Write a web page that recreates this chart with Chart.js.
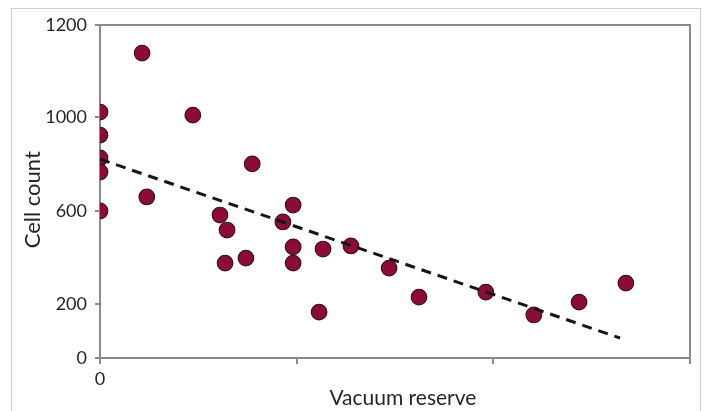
<!DOCTYPE html>
<html>
<head>
<meta charset="utf-8">
<script src="https://cdn.jsdelivr.net/npm/chart.js@4.4.1/dist/chart.umd.min.js"></script>
<style>
  html, body { margin: 0; padding: 0; background: #fff; }
  #wrap { position: relative; width: 705px; height: 411px; }
  #frame { position: absolute; left: 11px; top: 8px; width: 688px; height: 410px; border: 1px solid #cfcfcf; pointer-events: none; }
  canvas { position: absolute; left: 0; top: 0; }
</style>
</head>
<body>
<div id="wrap">
  <canvas id="c" width="705" height="411"></canvas>
  <div id="frame"></div>
</div>
<script>
// Data
const vacuumReserve = [0, 0, 0, 0, 0, 1.07, 2.36, 1.19, 3.05, 3.23, 3.18, 3.71, 3.87, 4.65, 4.91, 4.91, 4.91, 5.67, 6.38, 5.57, 7.35, 8.11, 9.81, 11.03, 12.18, 13.37];
const cellCount     = [1034, 937, 841, 782, 618, 1282, 1021, 677, 601, 538, 399, 420, 816, 572, 643, 467, 399, 458, 471, 193, 378, 256, 277, 181, 235, 315];
const trendX = [0, 13.22];
const trendY = [836, 84];
const yTickValues = [0, 227, 618, 1013, 1400];
const yTickLabels = ['0', '200', '600', '1000', '1200'];
const xTickValues = [0, 5, 10, 15];
const xTickLabels = ['0', '', '', ''];

const points = vacuumReserve.map((x, i) => ({ x: x, y: cellCount[i] }));
const trend = trendX.map((x, i) => ({ x: x, y: trendY[i] }));

const axisGray = '#8a8a8a';
const textCol = '#262626';
const fontFam = 'Lato, "Open Sans", sans-serif';

const boxPlugin = {
  id: 'box',
  beforeDatasetsDraw(chart) {
    const a = chart.chartArea, ctx = chart.ctx;
    ctx.save();
    ctx.strokeStyle = axisGray;
    ctx.lineWidth = 2;
    ctx.beginPath();
    ctx.moveTo(a.left - 5, a.top);
    ctx.lineTo(a.right, a.top);
    ctx.lineTo(a.right, a.bottom);
    ctx.stroke();
    ctx.restore();
  }
};

new Chart(document.getElementById('c'), {
  type: 'scatter',
  data: {
    datasets: [
      {
        label: 'Trend',
        data: trend,
        showLine: true,
        borderColor: '#151515',
        borderWidth: 3,
        borderDash: [10, 7],
        pointRadius: 0,
        fill: false
      },
      {
        label: 'Cell count',
        data: points,
        backgroundColor: '#8c0c35',
        borderColor: '#3a1420',
        borderWidth: 1.2,
        pointRadius: 7.8
      }
    ]
  },
  options: {
    responsive: false,
    animation: false,
    events: [],
    layout: { padding: { left: 0, right: 15, top: 25, bottom: 0 } },
    plugins: { legend: { display: false }, tooltip: { enabled: false } },
    scales: {
      x: {
        type: 'linear',
        min: 0, max: 15,
        afterFit: s => { s.height = 53; },
        afterBuildTicks: s => { s.ticks = xTickValues.map(v => ({ value: v })); },
        grid: { drawOnChartArea: false, drawTicks: true, tickLength: 6, color: axisGray, lineWidth: 2 },
        border: { display: true, color: axisGray, width: 2 },
        ticks: {
          padding: 4,
          color: textCol,
          font: { family: fontFam, size: 18 },
          maxRotation: 0,
          autoSkip: false,
          callback: (v, i) => xTickLabels[i]
        },
        title: {
          display: true,
          text: '\u2003Vacuum reserve',
          color: textCol,
          font: { family: fontFam, size: 21 },
          padding: { top: 0, bottom: 0 }
        }
      },
      y: {
        type: 'linear',
        min: 0, max: 1400,
        afterFit: s => { s.width = 100; },
        afterBuildTicks: s => { s.ticks = yTickValues.map(v => ({ value: v })); },
        grid: { drawOnChartArea: false, drawTicks: true, tickLength: 5, color: axisGray, lineWidth: 2 },
        border: { display: true, color: axisGray, width: 2 },
        ticks: {
          padding: 8,
          color: textCol,
          font: { family: fontFam, size: 18 },
          autoSkip: false,
          callback: (v, i) => yTickLabels[i]
        },
        title: {
          display: true,
          text: 'Cell count\u2003',
          color: textCol,
          font: { family: fontFam, size: 22 },
          padding: { top: 20, bottom: 0 }
        }
      }
    }
  },
  plugins: [boxPlugin]
});
</script>
</body>
</html>
